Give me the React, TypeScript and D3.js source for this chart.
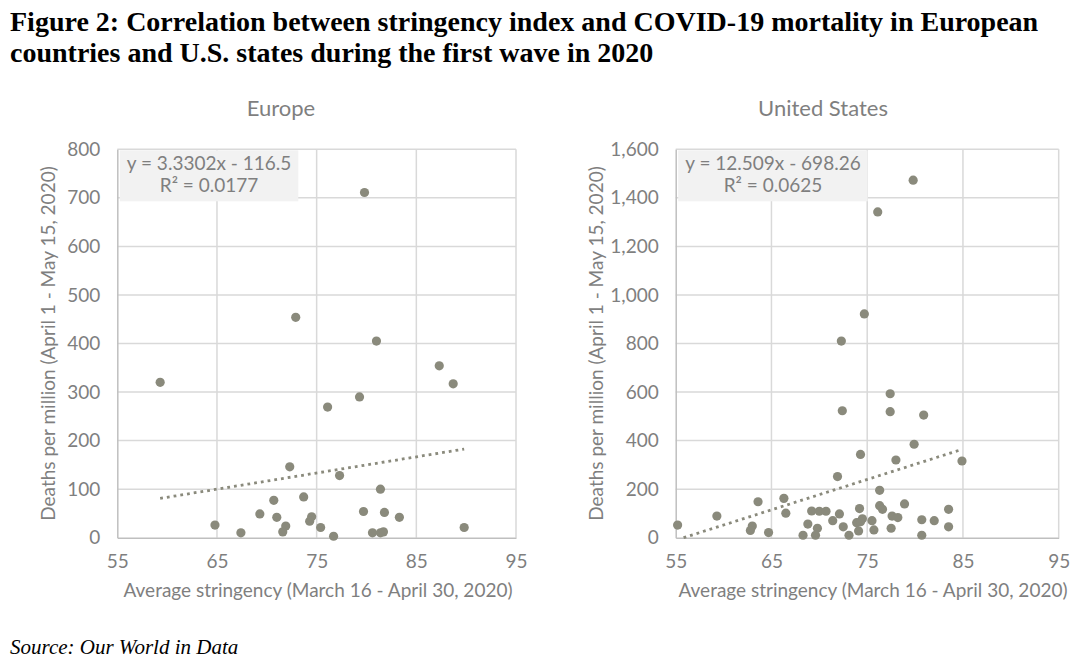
import React, { useEffect, useRef } from 'react';
import * as d3 from 'd3';

// Europe: average stringency vs deaths per million
const europeStringency = [
  79.8, 72.9, 81.0, 87.3, 88.7, 59.3, 79.3, 76.1, 72.3, 77.3,
  81.4, 70.7, 73.7, 69.3, 71.0, 64.8, 67.4, 71.9, 71.6, 74.5,
  74.3, 75.4, 76.7, 79.7, 81.8, 83.3, 80.6, 81.4, 81.7, 89.8
];
const europeDeaths = [
  711, 454, 405, 354, 317, 320, 290, 269, 146, 128,
  100, 77, 84, 49, 42, 26, 10, 24, 12, 43,
  34, 21, 3, 54, 52, 42, 10, 10, 12, 21
];

// U.S. states
const usStringency = [
  79.8, 76.1, 74.7, 72.3, 77.4, 72.4, 77.4, 80.9, 79.9, 74.3,
  78.0, 84.9, 71.9, 76.3, 63.6, 66.3, 78.9, 59.3, 55.2, 66.5,
  69.2, 70.0, 70.7, 72.1, 71.4, 74.2, 74.5, 73.9, 74.3, 75.5,
  76.3, 76.6, 77.6, 78.2, 80.7, 82.0, 83.5, 83.5, 80.7, 77.5,
  75.7, 74.1, 73.1, 72.5, 69.8, 69.6, 68.3, 68.8, 64.7, 63.0, 62.8
];
const usDeaths = [
  1473, 1342, 922, 810, 593, 523, 519, 505, 385, 343,
  320, 316, 252, 195, 148, 162, 139, 89, 52, 101,
  110, 109, 109, 98, 70, 120, 78, 62, 66, 70,
  132, 117, 89, 83, 74, 70, 117, 45, 10, 39,
  32, 28, 10, 45, 39, 10, 10, 56, 21, 48, 30
];

const xTicks = [55, 65, 75, 85, 95];
const europeYTicks = [0, 100, 200, 300, 400, 500, 600, 700, 800];
const usYTicks = [0, 200, 400, 600, 800, 1000, 1200, 1400, 1600];

const panelTitles = ['Europe', 'United States'];
const equations = ['y = 3.3302x - 116.5', 'y = 12.509x - 698.26'];
const rSquared = ['R\u00b2 = 0.0177', 'R\u00b2 = 0.0625'];
const slopes = [3.3302, 12.509];
const intercepts = [-116.5, -698.26];

const xTitle = 'Average stringency (March 16 - April 30, 2020)';
const yTitle = 'Deaths per million (April 1 - May 15, 2020)';

const W = 1085;
const H = 668;
const FONT = 'Lato, "Open Sans", sans-serif';
const TEXT_GRAY = '#7f7f7f';
const DOT = '#8a8a7c';
const LABEL_SIZE = 19;

interface Panel {
  title: string;
  xs: number[];
  ys: number[];
  yTicks: number[];
  equation: string;
  r2: string;
  slope: number;
  intercept: number;
  left: number;
  right: number;
  yTitleX: number;
  titleX: number;
  xTitleX: number;
}

const panels: Panel[] = [
  {
    title: panelTitles[0], xs: europeStringency, ys: europeDeaths, yTicks: europeYTicks,
    equation: equations[0], r2: rSquared[0], slope: slopes[0], intercept: intercepts[0],
    left: 117.3, right: 516, yTitleX: 55, titleX: 281, xTitleX: 318
  },
  {
    title: panelTitles[1], xs: usStringency, ys: usDeaths, yTicks: usYTicks,
    equation: equations[1], r2: rSquared[1], slope: slopes[1], intercept: intercepts[1],
    left: 675.7, right: 1058.7, yTitleX: 603, titleX: 823, xTitleX: 873
  }
];

const top = 149.3;
const bottom = 537.7;

export default function App() {
  const svgRef = useRef<SVGSVGElement>(null);

  useEffect(() => {
    if (!svgRef.current) return;
    const svg = d3.select(svgRef.current);
    svg.selectAll('*').remove();

    // Figure title
    const title = svg.append('text')
      .attr('font-family', '"Liberation Serif", "Times New Roman", serif')
      .attr('font-weight', 'bold')
      .attr('font-size', 28)
      .attr('fill', '#000');
    title.append('tspan').attr('x', 10).attr('y', 31)
      .text('Figure 2: Correlation between stringency index and COVID-19 mortality in European');
    title.append('tspan').attr('x', 10).attr('y', 62)
      .text('countries and U.S. states during the first wave in 2020');

    svg.append('text')
      .attr('x', 10).attr('y', 654)
      .attr('font-family', '"Liberation Serif", "Times New Roman", serif')
      .attr('font-style', 'italic')
      .attr('font-size', 21)
      .attr('fill', '#000')
      .text('Source: Our World in Data');

    panels.forEach(p => {
      const yMax = p.yTicks[p.yTicks.length - 1];
      const xScale = d3.scaleLinear().domain([55, 95]).range([p.left, p.right]);
      const yScale = d3.scaleLinear().domain([0, yMax]).range([bottom, top]);
      const g = svg.append('g');

      // Grid lines
      g.append('g').selectAll('line')
        .data(p.yTicks.slice(1))
        .join('line')
        .attr('x1', p.left).attr('x2', p.right)
        .attr('y1', d => yScale(d)).attr('y2', d => yScale(d))
        .attr('stroke', '#d9d9d9').attr('stroke-width', 1.5);
      g.append('g').selectAll('line')
        .data(xTicks.slice(1))
        .join('line')
        .attr('x1', d => xScale(d)).attr('x2', d => xScale(d))
        .attr('y1', top).attr('y2', bottom)
        .attr('stroke', '#d9d9d9').attr('stroke-width', 1.5);

      // Axes
      g.append('g')
        .attr('transform', `translate(0, ${bottom})`)
        .call(d3.axisBottom(xScale).tickValues(xTicks).tickSize(0).tickPadding(17))
        .call(a => a.select('.domain').attr('stroke', '#bfbfbf').attr('stroke-width', 1.5))
        .call(a => a.selectAll('.tick text').attr('fill', TEXT_GRAY).attr('font-size', LABEL_SIZE).attr('font-family', FONT));
      g.append('g')
        .attr('transform', `translate(${p.left}, 0)`)
        .call(d3.axisLeft(yScale).tickValues(p.yTicks).tickSize(0).tickPadding(17)
          .tickFormat(d => d3.format(',')(d as number)))
        .call(a => a.select('.domain').attr('stroke', '#bfbfbf').attr('stroke-width', 1.5))
        .call(a => a.selectAll('.tick text').attr('fill', TEXT_GRAY).attr('font-size', LABEL_SIZE).attr('font-family', FONT));

      // Titles
      g.append('text')
        .attr('x', p.titleX)
        .attr('y', 116)
        .attr('text-anchor', 'middle')
        .attr('font-family', FONT).attr('font-size', 22).attr('fill', TEXT_GRAY)
        .text(p.title);
      g.append('text')
        .attr('x', p.xTitleX)
        .attr('y', 597)
        .attr('text-anchor', 'middle')
        .attr('font-family', FONT).attr('font-size', LABEL_SIZE).attr('fill', TEXT_GRAY)
        .text(xTitle);
      g.append('text')
        .attr('transform', `translate(${p.yTitleX}, ${(top + bottom) / 2}) rotate(-90)`)
        .attr('text-anchor', 'middle')
        .attr('font-family', FONT).attr('font-size', LABEL_SIZE).attr('fill', TEXT_GRAY)
        .text(yTitle);

      // Points
      g.append('g').selectAll('circle')
        .data(p.xs.map((x, i) => [x, p.ys[i]]))
        .join('circle')
        .attr('cx', d => xScale(d[0]))
        .attr('cy', d => yScale(d[1]))
        .attr('r', 4.6)
        .attr('fill', DOT);

      // Linear trend line, clipped to y >= 0
      const xMin = d3.min(p.xs) as number;
      const xMax = d3.max(p.xs) as number;
      const xStart = Math.max(xMin, -p.intercept / p.slope);
      g.append('line')
        .attr('x1', xScale(xStart)).attr('y1', yScale(p.slope * xStart + p.intercept))
        .attr('x2', xScale(xMax)).attr('y2', yScale(p.slope * xMax + p.intercept))
        .attr('stroke', DOT).attr('stroke-width', 2.8)
        .attr('stroke-dasharray', '2.8,4');

      // Equation label
      const label = g.append('g');
      const rect = label.append('rect').attr('fill', '#f2f2f2');
      const t1 = label.append('text')
        .attr('text-anchor', 'middle')
        .attr('font-family', FONT).attr('font-size', LABEL_SIZE).attr('fill', TEXT_GRAY)
        .text(p.equation);
      const t2 = label.append('text')
        .attr('text-anchor', 'middle')
        .attr('font-family', FONT).attr('font-size', LABEL_SIZE).attr('fill', TEXT_GRAY)
        .text(p.r2);
      const len = (t1.node() as SVGTextElement).getComputedTextLength();
      const boxW = len + 14;
      const boxX = p.left + 2.5;
      rect.attr('x', boxX).attr('y', top + 1).attr('width', boxW).attr('height', 51);
      t1.attr('x', boxX + boxW / 2).attr('y', top + 21);
      t2.attr('x', boxX + boxW / 2).attr('y', top + 43);
    });
  }, []);

  return (
    <div style={{ position: 'absolute', left: 0, top: 0, width: W, height: H, background: '#fff' }}>
      <svg ref={svgRef} width={W} height={H} />
    </div>
  );
}
